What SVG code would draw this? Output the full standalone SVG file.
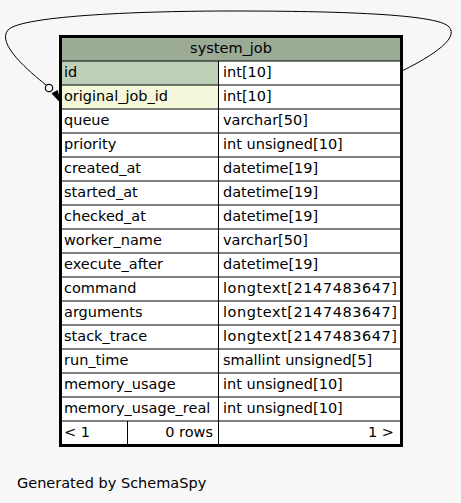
<svg xmlns="http://www.w3.org/2000/svg" width="461" height="503" viewBox="0 0 461 503">
<style>
text{font-family:"DejaVu Sans","Liberation Sans",sans-serif;font-size:14.5px;fill:#000}
.r{text-anchor:end}
.c{text-anchor:middle}
.g{stroke:#000;stroke-width:1;fill:none}
</style>
<rect width="461" height="503" fill="#f7f7f7"/>
<g id="connectors">
<path d="M402,71 C428,58 462,38 448,26 C432,12 300,11 230,11 C150,11 22,15 8,30 C-4,44 30,72 46,85" fill="none" stroke="#000" stroke-width="1"/>
<circle cx="49" cy="88" r="3.7" fill="#f7f7f7" stroke="#000" stroke-width="1.2"/>
<polygon points="52,93.5 57.5,90.5 60,102" fill="#000" stroke="#000" stroke-width="0.8"/>
</g>
<g id="system_job">
<rect x="61" y="37" width="340" height="408" fill="#ffffff"/>
<rect x="61" y="37" width="340" height="24" fill="#9bab96"/>
<rect x="61" y="61" width="157.5" height="24" fill="#bed1b8"/>
<rect x="61" y="85" width="157.5" height="24" fill="#f4f7da"/>
<g class="g">
<path d="M61,61H401M61,85H401M61,109H401M61,133H401M61,157H401M61,181H401M61,205H401M61,229H401M61,253H401M61,277H401M61,301H401M61,325H401M61,349H401M61,373H401M61,397H401M61,421H401"/>
<path d="M218.5,61V445M127.5,421V445"/>
</g>
<rect x="60.5" y="36.5" width="341" height="409" fill="none" stroke="#000" stroke-width="3"/>
<text x="231" y="53" class="c">system_job</text>
<text x="64" y="77">id</text><text x="223" y="77">int[10]</text>
<text x="64" y="101">original_job_id</text><text x="223" y="101">int[10]</text>
<text x="64" y="125">queue</text><text x="223" y="125">varchar[50]</text>
<text x="64" y="149">priority</text><text x="223" y="149">int unsigned[10]</text>
<text x="64" y="173">created_at</text><text x="223" y="173">datetime[19]</text>
<text x="64" y="197">started_at</text><text x="223" y="197">datetime[19]</text>
<text x="64" y="221">checked_at</text><text x="223" y="221">datetime[19]</text>
<text x="64" y="245">worker_name</text><text x="223" y="245">varchar[50]</text>
<text x="64" y="269">execute_after</text><text x="223" y="269">datetime[19]</text>
<text x="64" y="293">command</text><text x="223" y="293" textLength="174" lengthAdjust="spacing">longtext[2147483647]</text>
<text x="64" y="317">arguments</text><text x="223" y="317" textLength="174" lengthAdjust="spacing">longtext[2147483647]</text>
<text x="64" y="341">stack_trace</text><text x="223" y="341" textLength="174" lengthAdjust="spacing">longtext[2147483647]</text>
<text x="64" y="365">run_time</text><text x="223" y="365">smallint unsigned[5]</text>
<text x="64" y="389">memory_usage</text><text x="223" y="389">int unsigned[10]</text>
<text x="64" y="413">memory_usage_real</text><text x="223" y="413">int unsigned[10]</text>
<text x="64" y="437">&lt; 1</text><text x="213" y="437" class="r">0 rows</text><text x="394" y="437" class="r">1 &gt;</text>
</g>
<text x="17" y="488">Generated by SchemaSpy</text>
</svg>
